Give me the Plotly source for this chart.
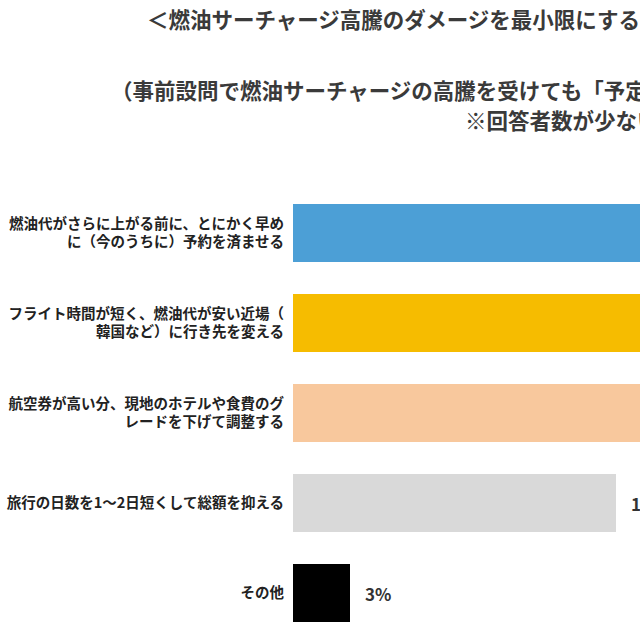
import plotly.graph_objects as go

categories = [
    "燃油代がさらに上がる前に、とにかく早め<br>に（今のうちに）予約を済ませる",
    "フライト時間が短く、燃油代が安い近場（<br>韓国など）に行き先を変える",
    "航空券が高い分、現地のホテルや食費のグ<br>レードを下げて調整する",
    "旅行の日数を1～2日短くして総額を抑える",
    "その他",
]
values = [48, 28, 24, 17, 3]
value_labels = ["48%", "28%", "24%", "17%", "3%"]
colors = ["#4C9FD6", "#F6BC00", "#F8C89D", "#D9D9D9", "#000000"]

title_lines = [
    "＜燃油サーチャージ高騰のダメージを最小限にするために行うこと＞",
    "（事前設問で燃油サーチャージの高騰を受けても「予定通り旅行する」と回答した人）",
    "※回答者数が少ないため参考値",
]

FONT = "Noto Sans CJK JP"
W, H = 640, 640
ML, MR, MT, MB = 293, 0, 188, 2
PW, PH = W - ML - MR, H - MT - MB
PX_PER_PCT = 19.0

fig = go.Figure()
fig.add_trace(go.Bar(
    x=values,
    y=categories,
    orientation="h",
    marker=dict(color=colors, line=dict(width=0)),
    width=0.645,
    hoverinfo="skip",
))

for v, lab, c in zip(values, value_labels, categories):
    fig.add_annotation(
        x=v, y=c, xref="x", yref="y", text=lab, showarrow=False,
        xanchor="left", yanchor="middle", xshift=13,
        font=dict(family=FONT, size=17, color="#333333", weight="bold"),
    )

def px_to_paper(xpx, ypx):
    return (xpx - ML) / PW, (H - MB - ypx) / PH

title_pos = [(145, 18), (109, 90), (463, 120)]
for txt, (xp, yp) in zip(title_lines, title_pos):
    px, py = px_to_paper(xp, yp)
    fig.add_annotation(
        x=px, y=py, xref="paper", yref="paper", text=txt, showarrow=False,
        xanchor="left", yanchor="middle",
        font=dict(family=FONT, size=21.5, color="#3a3a3a", weight="bold"),
    )

fig.update_layout(
    width=W, height=H,
    margin=dict(l=ML, r=MR, t=MT, b=MB, pad=0),
    paper_bgcolor="white", plot_bgcolor="white",
    showlegend=False,
    xaxis=dict(range=[0, PW / PX_PER_PCT], visible=False, fixedrange=True),
    yaxis=dict(
        type="category", autorange="reversed", showgrid=False, zeroline=False,
        showline=False, ticks="", ticklabelstandoff=8,
        tickfont=dict(family=FONT, size=14.5, color="#222222", weight="bold"),
    ),
)

fig.write_html("out.html")
